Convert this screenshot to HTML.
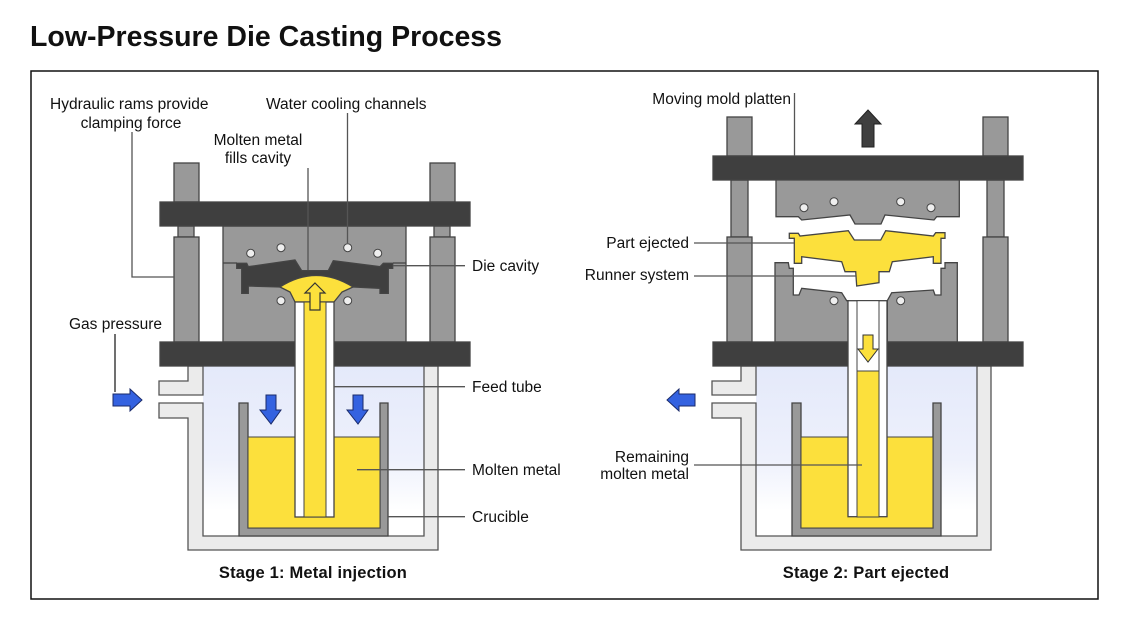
<!DOCTYPE html>
<html><head><meta charset="utf-8"><style>
html,body{margin:0;padding:0;background:#fff;width:1129px;height:630px;overflow:hidden}
svg{display:block}
text{font-family:"Liberation Sans",Arial,sans-serif;font-size:15.5px;fill:#111}
.b{font-weight:bold;font-size:16.5px;letter-spacing:0.2px}
</style></head><body>
<svg width="1129" height="630" viewBox="0 0 1129 630">
<defs>
<linearGradient id="gas" x1="0" y1="0" x2="0" y2="1">
<stop offset="0" stop-color="#e4e9fa"/><stop offset="0.55" stop-color="#eef1fc"/><stop offset="0.85" stop-color="#fff"/></linearGradient>
<g id="chamber">
<rect x="203" y="366" width="221" height="170" fill="url(#gas)"/>
<path d="M188,366 V381 H159 V395 H203 V366 Z" fill="#ebebeb" stroke="#555" stroke-width="1.3"/>
<path d="M159,403 H203 V536 H424 V366 H438 V550 H188 V418 H159 Z" fill="#ebebeb" stroke="#555" stroke-width="1.3"/>
<path d="M239,403 H248 V528 H380 V403 H388 V536 H239 Z" fill="#999" stroke="#444" stroke-width="1.3"/>
<rect x="248" y="437" width="132" height="91" fill="#fce03c" stroke="#444" stroke-width="1"/>
</g>
</defs>
<text x="30" y="46" style="font-size:28.5px;font-weight:bold">Low-Pressure Die Casting Process</text>
<rect x="31" y="71" width="1067" height="528" fill="none" stroke="#111" stroke-width="1.5"/>

<!-- STAGE 1 -->
<use href="#chamber"/>
<g stroke="#444" stroke-width="1.3">
<rect x="174" y="163" width="25" height="39" fill="#999"/>
<rect x="430" y="163" width="25" height="39" fill="#999"/>
<rect x="178" y="226" width="16" height="11" fill="#999"/>
<rect x="434" y="226" width="16" height="11" fill="#999"/>
<rect x="174" y="237" width="25" height="105" fill="#999"/>
<rect x="430" y="237" width="25" height="105" fill="#999"/>
<rect x="223" y="226" width="183" height="116" fill="#999"/>
<rect x="160" y="202" width="310" height="24" fill="#3f3f3f"/>
<rect x="160" y="342" width="135" height="24" fill="#3f3f3f"/>
<rect x="334" y="342" width="136" height="24" fill="#3f3f3f"/>
<line x1="223" y1="263" x2="237" y2="263"/><line x1="393" y1="263" x2="406" y2="263"/>
<polygon fill="#3f3f3f" points="236.7,263.3 246.7,263.3 248.3,266.7 295,260 301.7,270.7 328.3,270.7 333.3,260.7 380,266.7 383.3,263.3 392.7,263.3 392.7,268.3 388.3,268.3 388.3,293.3 380,293.3 380,288.3 353,287 280,287 248.3,286 248.3,293.3 241.7,293.3 241.7,268.3 236.7,268.3"/>
<path d="M280,287 Q316,264 353,287 L342,292 L334,302 L295,302 L290,292 Z" fill="#fce03c"/>
<rect x="295" y="302" width="39" height="215" fill="#fff"/>
<rect x="304" y="302" width="22" height="215" fill="#fce03c" stroke-width="1"/>
<path d="M315,283 L325,293 L320,293 L320,310 L310,310 L310,293 L305,293 Z" fill="#fce03c" stroke="#333" stroke-width="1.2"/>
</g>
<g fill="#eee" stroke="#444" stroke-width="1">
<circle cx="250.7" cy="253.3" r="4"/><circle cx="281" cy="247.7" r="4"/><circle cx="347.7" cy="247.7" r="4"/><circle cx="377.7" cy="253.3" r="4"/><circle cx="281" cy="300.7" r="4"/><circle cx="347.7" cy="300.7" r="4"/>
</g>
<g fill="#3462e0" stroke="#1a2a6a" stroke-width="1">
<path d="M266,395 H276 V410 H281 L271,424 L260,410 H266 Z"/>
<path d="M353,395 H363 V410 H368 L358,424 L347,410 H353 Z"/>
<path d="M113,394 H130 V389 L142,400 L130,411 V406 H113 Z"/>
</g>
<g stroke="#555" stroke-width="1.3" fill="none">
<polyline points="132,132 132,277 174,277"/>
<line x1="347.5" y1="113" x2="347.5" y2="243"/>
<line x1="308" y1="168" x2="308" y2="270"/>
<line x1="393" y1="265.7" x2="465" y2="265.7"/>
<line x1="334" y1="386.7" x2="465" y2="386.7"/>
<line x1="357" y1="469.7" x2="465" y2="469.7"/>
<line x1="388" y1="516.7" x2="465" y2="516.7"/>
</g>
<line x1="115" y1="334" x2="115" y2="392" stroke="#111" stroke-width="1.2"/>
<text x="50" y="109">Hydraulic rams provide</text>
<text x="131" y="128" text-anchor="middle">clamping force</text>
<text x="266" y="109">Water cooling channels</text>
<text x="258" y="145" text-anchor="middle">Molten metal</text>
<text x="258" y="163" text-anchor="middle">fills cavity</text>
<text x="472" y="271">Die cavity</text>
<text x="69" y="329">Gas pressure</text>
<text x="472" y="392">Feed tube</text>
<text x="472" y="475">Molten metal</text>
<text x="472" y="522">Crucible</text>
<text x="313" y="578" text-anchor="middle" class="b">Stage 1: Metal injection</text>

<!-- STAGE 2 -->
<use href="#chamber" x="553"/>
<g stroke="#444" stroke-width="1.3">
<rect x="727" y="117" width="25" height="39" fill="#999"/>
<rect x="983" y="117" width="25" height="39" fill="#999"/>
<rect x="731" y="180" width="17" height="57" fill="#999"/>
<rect x="987" y="180" width="17" height="57" fill="#999"/>
<rect x="727" y="237" width="25" height="105" fill="#999"/>
<rect x="983" y="237" width="25" height="105" fill="#999"/>
<rect x="713" y="156" width="310" height="24" fill="#3f3f3f"/>
<polygon fill="#999" points="776,180 959.3,180 959.3,216.7 936.7,216.7 934,220 885,215 881,224 855,224 850,215 801.7,220 798.3,216.7 776,216.7"/>
<polygon fill="#999" points="775,262.7 788.3,262.7 789.3,268.3 793.3,268.3 793.3,295 799,295 801.7,288.3 841.7,292.7 846.7,300.7 848.3,300.7 848.3,342 775,342"/>
<polygon fill="#999" points="957.3,262.7 945,262.7 945,268.3 941,268.3 941,295 935,295 933.3,290 891.7,292.7 887.3,300.7 887.3,342 957.3,342"/>
<rect x="713" y="342" width="135" height="24" fill="#3f3f3f"/>
<rect x="887" y="342" width="136" height="24" fill="#3f3f3f"/>
<rect x="848" y="300.7" width="39" height="216" fill="#fff"/>
<rect x="857" y="300.7" width="22" height="216" fill="#fff" stroke-width="1"/>
<rect x="857" y="371" width="22" height="146" fill="#fce03c" stroke-width="1"/>
<polygon fill="#fce03c" points="789.3,233.3 798.3,233.3 800,236 848.3,230.7 854.3,240 880.7,240 885.7,230.7 933.3,236 935.7,232.7 945,232.7 945,238.3 941,238.3 941,263.3 933.3,263.3 933.3,256.7 892.3,261.7 889.3,271.7 879,271.7 879,282.7 856.7,286 855.7,271.7 845,271.7 841.7,261.7 801.7,256.7 801.7,263.3 794.3,263.3 794.3,238.3 789.3,238.3"/>
<path d="M863,335 H873 V349 H878 L868,362 L858,349 H863 Z" fill="#fce03c" stroke="#333" stroke-width="1"/>
<path d="M868,110 L881,124 L874,124 L874,147 L862,147 L862,124 L855,124 Z" fill="#3f3f3f" stroke="#222" stroke-width="1"/>
</g>
<g fill="#eee" stroke="#444" stroke-width="1">
<circle cx="804" cy="207.7" r="4"/><circle cx="834" cy="201.7" r="4"/><circle cx="900.7" cy="201.7" r="4"/><circle cx="931" cy="207.7" r="4"/><circle cx="834" cy="300.7" r="4"/><circle cx="900.7" cy="300.7" r="4"/>
</g>
<path d="M695,394 H679 V389 L667,400 L679,411 V406 H695 Z" fill="#3462e0" stroke="#1a2a6a" stroke-width="1"/>
<g stroke="#555" stroke-width="1.3" fill="none">
<line x1="794.5" y1="93" x2="794.5" y2="156"/>
<line x1="694" y1="243" x2="794" y2="243"/>
<line x1="694" y1="276" x2="856" y2="276"/>
<line x1="694" y1="465" x2="862" y2="465"/>
</g>
<text x="791" y="104" text-anchor="end">Moving mold platten</text>
<text x="689" y="248" text-anchor="end">Part ejected</text>
<text x="689" y="280" text-anchor="end">Runner system</text>
<text x="689" y="462" text-anchor="end">Remaining</text>
<text x="689" y="479" text-anchor="end">molten metal</text>
<text x="866" y="578" text-anchor="middle" class="b">Stage 2: Part ejected</text>
</svg>
</body></html>
